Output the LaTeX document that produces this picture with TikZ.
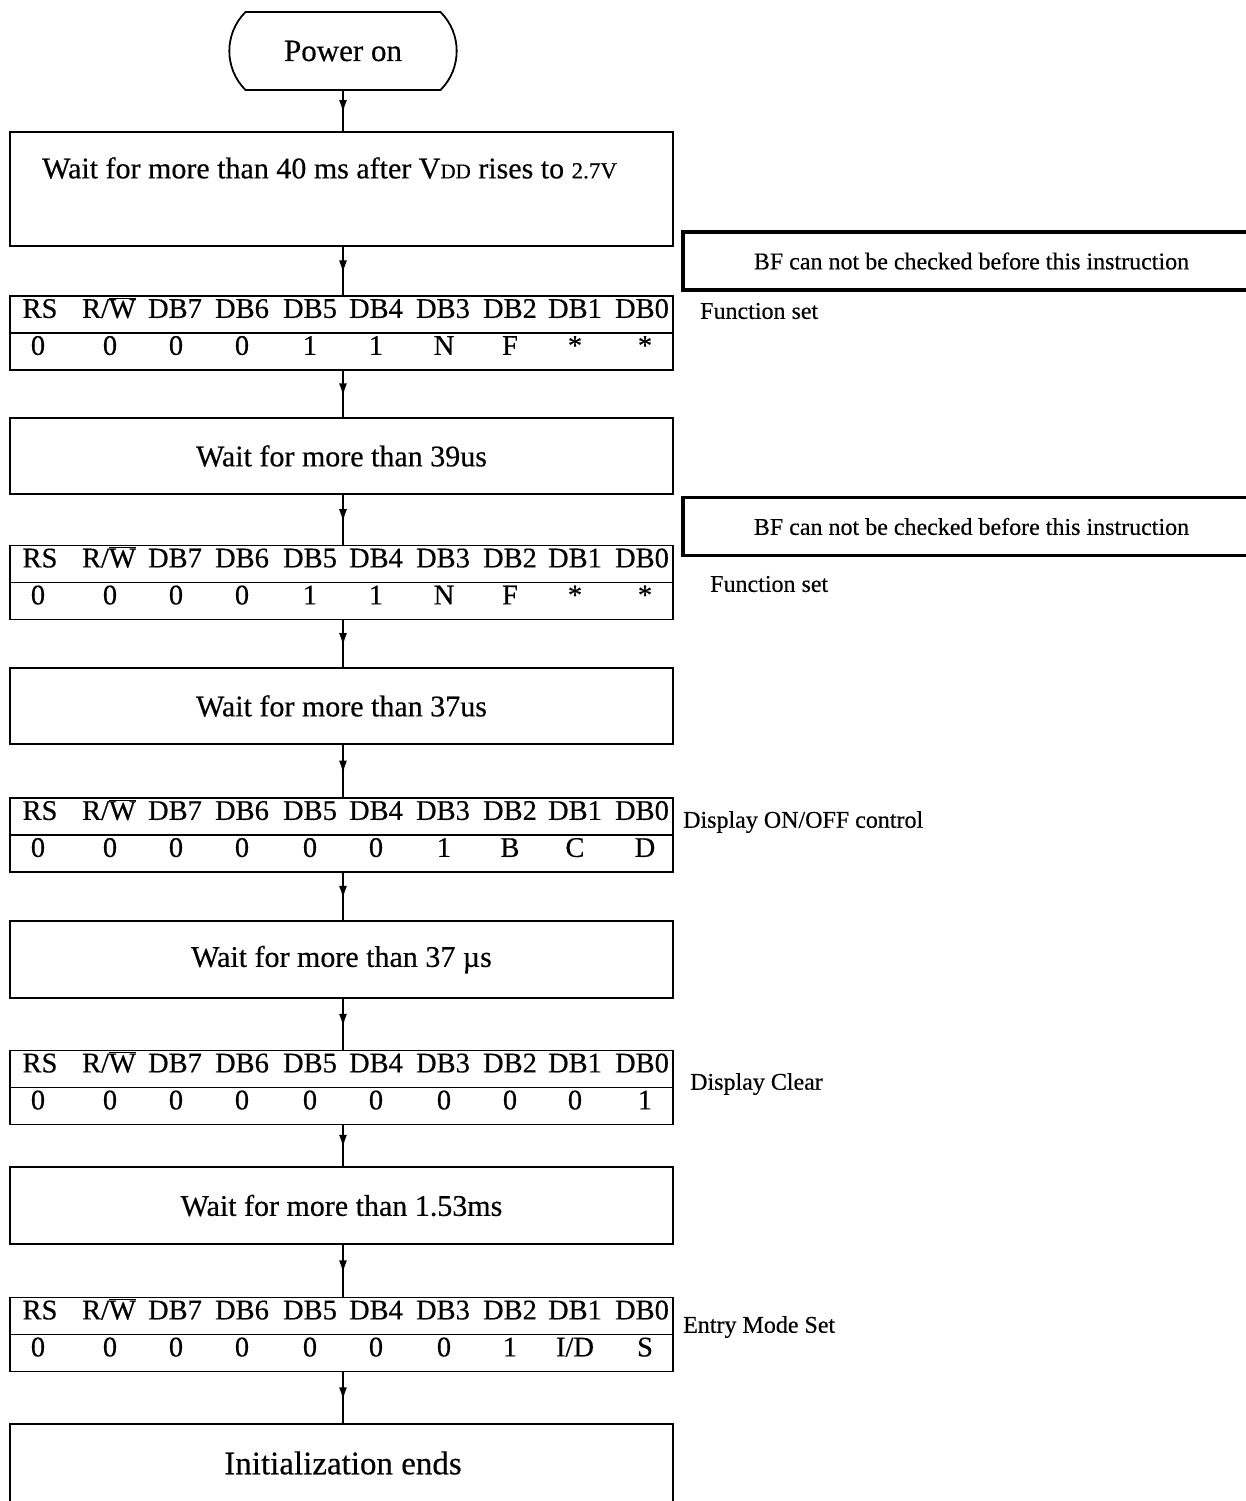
\documentclass[tikz,border=0pt]{standalone}
\usepackage{fontspec}
\setmainfont{Liberation Serif}[FakeBold=0.4]
\usetikzlibrary{shapes.misc,arrows.meta,decorations.markings}
\newcommand\hdrrow[2]{%
  \foreach \x/\t [count=\i] in {40/RS,109/{R/$\overline{\mbox{W}}$},175/DB7,242/DB6,310/DB5,376/DB4,443/DB3,510/DB2,575/DB1,642/DB0}
    \node[cell] (#1h\i) at (\x,#2) {\t};}
\newcommand\valrow[3]{%
  \foreach \t [count=\i] in {#3} {%
    \pgfmathparse{{38,110,176,242,310,376,444,510,575,645}[\i-1]}%
    \let\xx\pgfmathresult
    \node[cell] (#1v\i) at (\xx,#2) {\t};}}
\begin{document}
\begin{tikzpicture}[x=1pt,y=-1pt,
  every node/.style={font=\fontsize{30}{32}\selectfont},
  box/.style={draw, line width=1.8pt, minimum width=663pt, inner sep=0pt},
  tbl/.style={draw, line width=1.8pt, minimum width=663pt, minimum height=74pt, inner sep=0pt},
  tline/.style={line width=1.8pt},
  cell/.style={inner sep=0pt, text height=0.68em, text depth=0pt, font=\fontsize{28.5}{30}\selectfont},
  bfbox/.style={draw, line width=3.5pt, minimum width=577pt, minimum height=58pt, inner sep=0pt, font=\fontsize{24}{26}\selectfont},
  side/.style={anchor=west, inner sep=0pt, font=\fontsize{24}{26}\selectfont},
  conn/.style={line width=1.8pt, postaction={decorate},
    decoration={markings, mark=at position 0.55 with {\arrow{Latex[length=13pt,width=8pt]}}}}]
\useasboundingbox (0,0) rectangle (1245,1501);
% start
\node[draw, rounded rectangle, rounded rectangle arc length=90, minimum width=234pt,
  minimum height=78pt, line width=1.8pt, font=\fontsize{31}{32}\selectfont] (pwr) at (343,51) {Power on};
% wait 1
\node[box, minimum height=114pt] (w1) at (341.5,189) {};
\node[anchor=west, inner sep=0pt] (w1t) at (42,168) {Wait for more than 40 ms after V{\fontsize{21}{21}\selectfont DD} rises to {\fontsize{23}{23}\selectfont 2.7V}};
% table 1
\node[tbl] (t1) at (341.5,333) {};
\draw[tline] (t1.west) -- (t1.east);
\hdrrow{a}{314.5}
\valrow{a}{351.5}{0,0,0,0,1,1,N,F,*,*}
\node[bfbox] (bf1) at (971.5,261) {BF can not be checked before this instruction};
\node[side] (l1) at (700,311) {Function set};
% wait 2
\node[box, minimum height=76pt] (w2) at (341.5,456) {Wait for more than 39us};
% table 2
\node[tbl] (t2) at (341.5,582.5) {};
\draw[tline] (t2.west) -- (t2.east);
\hdrrow{b}{564}
\valrow{b}{601}{0,0,0,0,1,1,N,F,*,*}
\node[bfbox] (bf2) at (971.5,526.5) {BF can not be checked before this instruction};
\node[side] (l2) at (710,584) {Function set};
% wait 3
\node[box, minimum height=76pt] (w3) at (341.5,706) {Wait for more than 37us};
% table 3
\node[tbl] (t3) at (341.5,835) {};
\draw[tline] (t3.west) -- (t3.east);
\hdrrow{c}{816.5}
\valrow{c}{853.5}{0,0,0,0,0,0,1,B,C,D}
\node[side] (l3) at (683,822) {Display ON/OFF control};
% wait 4
\node[box, minimum height=77pt] (w4) at (341.5,959.5) {Wait for more than 37 µs};
% table 4
\node[tbl] (t4) at (341.5,1087.5) {};
\draw[tline] (t4.west) -- (t4.east);
\hdrrow{d}{1069}
\valrow{d}{1106}{0,0,0,0,0,0,0,0,0,1}
\node[side] (l4) at (690,1084) {Display Clear};
% wait 5
\node[box, minimum height=77pt] (w5) at (341.5,1205.5) {Wait for more than 1.53ms};
% table 5
\node[tbl] (t5) at (341.5,1334.5) {};
\draw[tline] (t5.west) -- (t5.east);
\hdrrow{e}{1316}
\valrow{e}{1353}{0,0,0,0,0,0,0,1,I/D,S}
\node[side] (l5) at (683,1327) {Entry Mode Set};
% end
\node[box, minimum height=86pt] (fin) at (341.5,1467) {};
\node[inner sep=0pt, font=\fontsize{33}{34}\selectfont] (fint) at (343,1463) {Initialization ends};
% connectors
\draw[conn] (pwr.south) -- (pwr.south |- w1.north);
\draw[conn] (pwr.south |- w1.south) -- (pwr.south |- t1.north);
\draw[conn] (pwr.south |- t1.south) -- (pwr.south |- w2.north);
\draw[conn] (pwr.south |- w2.south) -- (pwr.south |- t2.north);
\draw[conn] (pwr.south |- t2.south) -- (pwr.south |- w3.north);
\draw[conn] (pwr.south |- w3.south) -- (pwr.south |- t3.north);
\draw[conn] (pwr.south |- t3.south) -- (pwr.south |- w4.north);
\draw[conn] (pwr.south |- w4.south) -- (pwr.south |- t4.north);
\draw[conn] (pwr.south |- t4.south) -- (pwr.south |- w5.north);
\draw[conn] (pwr.south |- w5.south) -- (pwr.south |- t5.north);
\draw[conn] (pwr.south |- t5.south) -- (pwr.south |- fin.north);
\end{tikzpicture}
\end{document}
